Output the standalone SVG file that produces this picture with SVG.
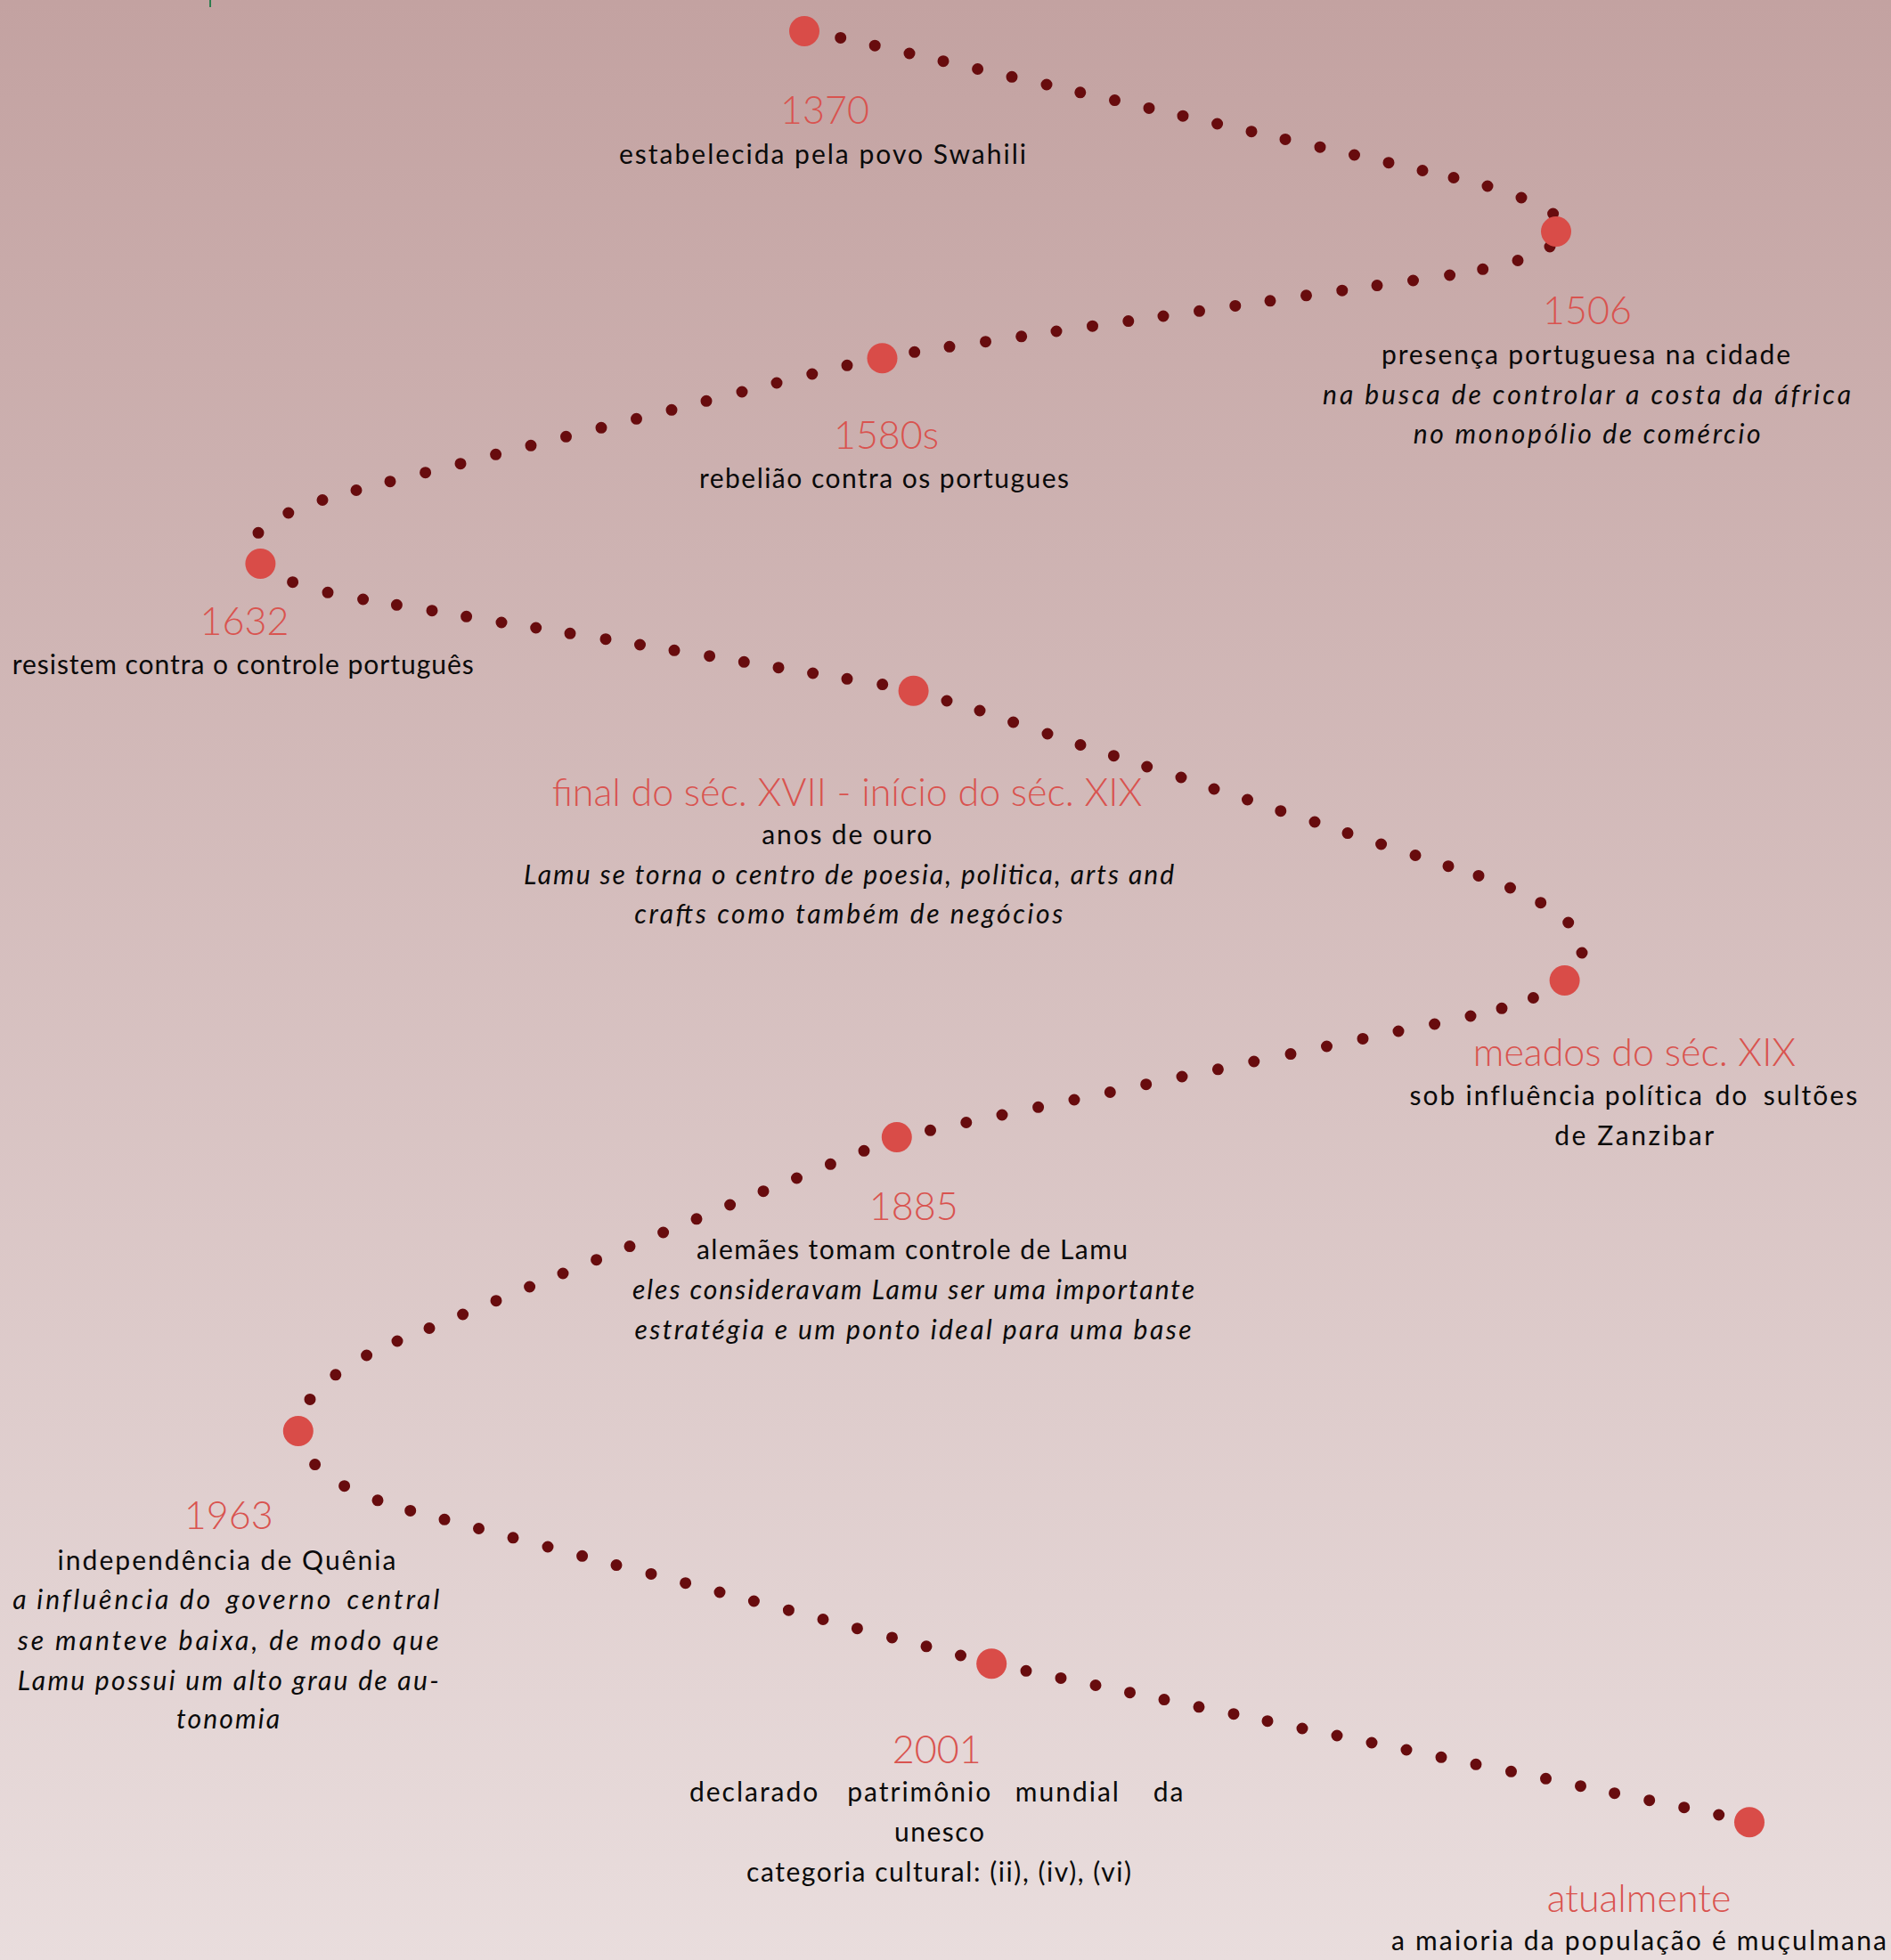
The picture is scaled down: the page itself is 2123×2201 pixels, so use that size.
<svg xmlns="http://www.w3.org/2000/svg" width="2123" height="2201" viewBox="0 0 2123 2201">
<defs>
<linearGradient id="bg" x1="0" y1="0" x2="0" y2="1">
<stop offset="0" stop-color="#c3a2a1"/>
<stop offset="1" stop-color="#e9dddd"/>
</linearGradient>
<style>
.node{fill:#d94c48}
.dots{fill:none;stroke:#680c0e;stroke-width:13;stroke-linecap:round}
.yr{font-family:Lato,"Liberation Sans",sans-serif;font-weight:300;font-size:43px;fill:#d9534f;text-anchor:middle}
.tx{font-family:Lato,"Liberation Sans",sans-serif;font-size:30px;fill:#0a0a0a;text-anchor:middle}
.it{font-style:italic}
.ls2{letter-spacing:2px}
.ls3{letter-spacing:3px}
</style>
</defs>
<rect width="2123" height="2201" fill="url(#bg)"/>
<line x1="236" y1="0" x2="236" y2="8" stroke="#2e7d4f" stroke-width="2"/>
<g id="connectors">
<path id="c1" class="dots" d="M943.7 42.4h0M982.2 51.2h0M1021 60h0M1059 68.7h0M1097.6 77.5h0M1136 86.3h0M1175 95h0M1212.8 103.8h0M1251.5 112.6h0M1290 121.4h0M1328 130.2h0M1366.6 139h0M1405 147.7h0M1443 156.4h0M1482 165.2h0M1520.5 174h0M1559 182.7h0M1597 191.5h0M1632 199.5h0M1670 209h0M1708 222h0M1743.6 240h0"/>
<path id="c2" class="dots" d="M1740 277h0M1704 292.5h0M1664.7 302.3h0M1627.6 309h0M1586.5 315h0M1546 320.6h0M1506.8 326.2h0M1466.5 331.8h0M1426 337.8h0M1386.8 343.4h0M1346.5 349.3h0M1306 355h0M1266.8 360.6h0M1226.5 366.2h0M1186 372h0M1146.7 377.8h0M1106.5 383.7h0M1066 389.3h0M1026.7 395.3h0"/>
<path id="c3" class="dots" d="M951 410.3h0M911.8 420h0M872 430h0M833 440h0M793 450.3h0M754 460.3h0M714.5 470.3h0M675 480.3h0M635.5 490.3h0M596 500.3h0M556.6 510.3h0M517 520.7h0M477.6 530.7h0M438 540.7h0M400 550.5h0M362 561.5h0M323.8 576h0M290 598.3h0"/>
<path id="c4" class="dots" d="M328.6 653.7h0M368 665.3h0M407.6 673h0M445.4 679.3h0M485 685.7h0M523.6 692.3h0M563 699h0M601.7 705h0M640 711.3h0M680 717.7h0M718.5 724h0M757 730.3h0M796.6 736.7h0M835.3 743.3h0M874 749.7h0M912.6 756h0M951 762.3h0M990.7 768.6h0"/>
<path id="c5" class="dots" d="M1063 787h0M1100 798h0M1137.6 811h0M1176 824h0M1213 836.5h0M1250.4 848.7h0M1287.7 861h0M1326 873h0M1363 886h0M1400.5 898h0M1437.8 910.7h0M1476 923h0M1513 935.6h0M1550.6 948h0M1589 960.5h0M1626 972.7h0M1660 983.4h0M1695.5 997h0M1729.7 1013.7h0M1760.7 1036h0M1776 1070h0"/>
<path id="c6" class="dots" d="M1721.4 1120.5h0M1686 1132.3h0M1651 1141h0M1610.6 1150h0M1570 1158h0M1530 1166.4h0M1489.5 1175h0M1449 1183.6h0M1407.8 1192h0M1367.4 1200.8h0M1327 1209h0M1286.7 1217.7h0M1246.3 1226.5h0M1206 1235h0M1165.6 1243.3h0M1125 1252h0M1084.8 1260.5h0M1044.5 1269.3h0"/>
<path id="c7" class="dots" d="M970 1292.3h0M932.4 1307.3h0M894.5 1323h0M857 1337.7h0M819.6 1353h0M782 1368.8h0M744.6 1384h0M707 1399.6h0M669.6 1414.7h0M632 1430h0M594.6 1445h0M557 1460.7h0M519.6 1476h0M482 1491.5h0M446 1506h0M411.6 1522h0M376.8 1543.8h0M348 1571.4h0"/>
<path id="c8" class="dots" d="M353.6 1644.6h0M386.6 1668.7h0M424 1684.8h0M460.7 1696.4h0M499 1706.3h0M537.5 1716.5h0M576 1726.8h0M615 1737h0M653.6 1747.3h0M692 1757.6h0M731 1767.4h0M769.6 1777.7h0M808 1788h0M846.4 1798h0M885.4 1808.2h0M924 1818.5h0M962.4 1828.7h0M1001.5 1838.9h0M1040 1848.8h0M1078.5 1859h0"/>
<path id="c9" class="dots" d="M1152 1876.3h0M1191 1884.4h0M1230 1892.5h0M1268.5 1900.7h0M1307 1908.6h0M1346 1916.8h0M1385 1924.7h0M1423 1932.7h0M1462 1941h0M1501 1949h0M1540 1957h0M1579 1965h0M1618 1973.3h0M1657 1981.3h0M1696.5 1989.3h0M1735.5 1997.3h0M1774.5 2005.7h0M1812.6 2013.7h0M1851.7 2021.7h0M1890.7 2029.7h0M1929.7 2038h0"/>
</g>
<g id="n1370">
<circle class="node" cx="903" cy="35" r="17"/>
<text class="yr" x="926" y="139">1370</text>
<text class="tx" x="923.5" y="184" textLength="457">estabelecida pela povo Swahili</text>
</g>
<g id="n1506">
<circle class="node" cx="1747" cy="260" r="17"/>
<text class="yr" x="1782" y="364">1506</text>
<text class="tx" x="1780.5" y="408.6" textLength="459">presença portuguesa na cidade</text>
<text class="tx it" x="1781.5" y="454" textLength="593">na busca de controlar a costa da áfrica</text>
<text class="tx it" x="1781.7" y="498" textLength="390">no monopólio de comércio</text>
</g>
<g id="n1580s">
<circle class="node" cx="990.5" cy="402.3" r="17"/>
<text class="yr" x="995" y="504">1580s</text>
<text class="tx" x="992.5" y="548" textLength="415">rebelião contra os portugues</text>
</g>
<g id="n1632">
<circle class="node" cx="292.4" cy="633" r="17"/>
<text class="yr" x="274.5" y="713">1632</text>
<text class="tx" x="272.7" y="757" textLength="518">resistem contra o controle português</text>
</g>
<g id="nFinal">
<circle class="node" cx="1025.6" cy="775.8" r="17"/>
<text class="yr" x="951" y="905">final do séc. XVII - início do séc. XIX</text>
<text class="tx" x="950.8" y="948" textLength="191">anos de ouro</text>
<text class="tx it" x="953" y="993" textLength="730">Lamu se torna o centro de poesia, politica, arts and</text>
<text class="tx it" x="952.8" y="1037" textLength="481">crafts como também de negócios</text>
</g>
<g id="nMeados">
<circle class="node" cx="1756.6" cy="1101" r="17"/>
<text class="yr" x="1835" y="1197">meados do séc. XIX</text>
<text class="tx ls2" y="1241"><tspan x="1613.8">sob</tspan> <tspan x="1723.9">influência</tspan> <tspan x="1862.2">política</tspan> <tspan x="1949.2">do</tspan> <tspan x="2033.5">sultões</tspan></text>
<text class="tx" x="1834.7" y="1286" textLength="179">de Zanzibar</text>
</g>
<g id="n1885">
<circle class="node" cx="1006.8" cy="1277" r="17"/>
<text class="yr" x="1025.7" y="1369.6">1885</text>
<text class="tx" x="1024" y="1414" textLength="484">alemães tomam controle de Lamu</text>
<text class="tx it" x="1025.5" y="1458.5" textLength="631">eles consideravam Lamu ser uma importante</text>
<text class="tx it" x="1025" y="1504" textLength="625">estratégia e um ponto ideal para uma base</text>
</g>
<g id="n1963">
<circle class="node" cx="334.8" cy="1607" r="17"/>
<text class="yr" x="256.7" y="1716.5">1963</text>
<text class="tx" x="254.5" y="1762.5" textLength="380">independência de Quênia</text>
<text class="tx it ls3" y="1807"><tspan x="28.5">a</tspan> <tspan x="121.8">influência</tspan> <tspan x="225.4">do</tspan> <tspan x="319.2">governo</tspan> <tspan x="442.9">central</tspan></text>
<text class="tx it" x="256.2" y="1852.7" textLength="473">se manteve baixa, de modo que</text>
<text class="tx it" x="256.2" y="1898" textLength="473">Lamu possui um alto grau de au-</text>
<text class="tx it" x="256" y="1941" textLength="116">tonomia</text>
</g>
<g id="n2001">
<circle class="node" cx="1113.2" cy="1868.3" r="17"/>
<text class="yr" x="1051.7" y="1980">2001</text>
<text class="tx ls2" y="2023"><tspan x="852">declarado</tspan> <tspan x="1037.6">patrimônio</tspan> <tspan x="1203.7">mundial</tspan> <tspan x="1312.5">da</tspan></text>
<text class="tx" x="1054.4" y="2067.7" textLength="101">unesco</text>
<text class="tx" x="1054" y="2113" textLength="432">categoria cultural: (ii), (iv), (vi)</text>
</g>
<g id="nAtual">
<circle class="node" cx="1964" cy="2046.3" r="17"/>
<text class="yr" x="1840" y="2146.7">atualmente</text>
<text class="tx" x="1840" y="2190" textLength="556">a maioria da população é muçulmana</text>
</g>
</svg>
